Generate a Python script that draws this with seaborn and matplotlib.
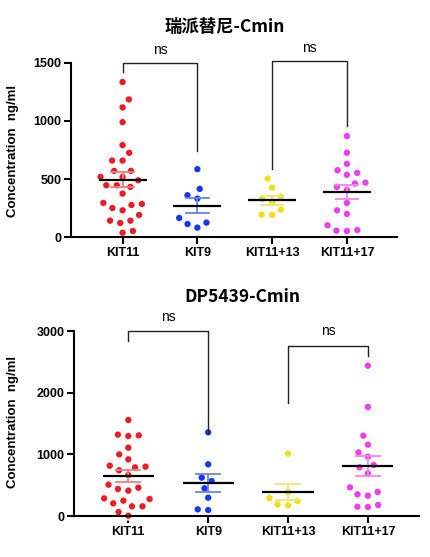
import pandas as pd
import matplotlib
matplotlib.use("Agg")
import matplotlib.pyplot as plt
import seaborn as sns

# 分組
groups = ["KIT11", "KIT9", "KIT11+13", "KIT11+17"]

# 瑞派替尼 Cmin (ng/ml)
rpt_kit11 = [1336, 1186, 1117, 990, 792, 726, 659, 659, 570, 570, 518, 518, 489,
             446, 446, 432, 374, 294, 285, 276, 250, 230, 190, 141, 141, 121, 52, 37]
rpt_kit9 = [585, 415, 360, 331, 164, 124, 112, 81]
rpt_kit11_13 = [504, 426, 348, 328, 299, 236, 193, 190]
rpt_kit11_17 = [870, 726, 631, 576, 553, 536, 469, 461, 432, 406, 294, 230, 199,
                101, 60, 55, 52]

# DP5439 Cmin (ng/ml)
dp_kit11 = [1557, 1297, 1308, 1319, 1108, 1000, 919, 816, 800, 789, 741, 665,
            508, 459, 411, 438, 276, 249, 205, 286, 157, 157, 65, 5]
dp_kit9 = [1357, 838, 568, 622, 449, 297, 97, 108]
dp_kit11_13 = [1011, 389, 292, 189, 243, 173]
dp_kit11_17 = [2438, 1768, 1303, 1157, 1032, 962, 827, 789, 692, 465, 389, 330,
               351, 151, 178, 146]

dot_colors = ["#ED1C24", "#1438F5", "#F0E014", "#F03CF0"]
err_colors = ["#F47C7C", "#6A80F0", "#F0E66E", "#F582F5"]

plt.rcParams["font.family"] = ["Liberation Sans", "DejaVu Sans"]
title_font = ["Noto Sans CJK SC", "DejaVu Sans"]


def make_df(values):
    rows = []
    for g, vals in zip(groups, values):
        for v in vals:
            rows.append({"group": g, "value": v})
    return pd.DataFrame(rows)


def draw_panel(ax, df, yticks, xlim, brackets):
    # 白色描邊讓點之間留出空隙
    sns.swarmplot(data=df, x="group", y="value", hue="group", order=groups,
                  hue_order=groups, palette=dot_colors, size=5.9, ax=ax,
                  legend=False, clip_on=False, zorder=2,
                  edgecolor="white", linewidth=1.3)
    # 平均值 ± SEM
    sns.pointplot(data=df, x="group", y="value", hue="group", order=groups,
                  hue_order=groups, palette=err_colors, errorbar="se",
                  capsize=0.3, linestyle="none", markersize=0, ax=ax,
                  legend=False, err_kws={"linewidth": 1.3}, zorder=3)
    stats = df.groupby("group")["value"].mean().reindex(groups)
    pos = range(len(groups))
    ax.hlines(stats.values, [p - 0.32 for p in pos], [p + 0.32 for p in pos],
              color="black", linewidth=1.6, zorder=4)

    ax.set_xlim(*xlim)
    ax.set_ylim(yticks[0], yticks[-1])
    ax.set_yticks(yticks)
    ax.set_xlabel("")
    ax.set_ylabel("Concentration  ng/ml", fontsize=9.5, fontweight="bold")
    for lab in ax.get_xticklabels() + ax.get_yticklabels():
        lab.set_fontweight("bold")
    ax.tick_params(axis="both", labelsize=9, width=1.5, length=5, pad=2)
    sns.despine(ax=ax)
    for s in ["left", "bottom"]:
        ax.spines[s].set_linewidth(1.5)

    # 顯著性標記
    for x1, x2, top, y1, y2, ty in brackets:
        ax.plot([x1, x1, x2, x2], [y1, top, top, y2], color="#222222",
                linewidth=1.0, clip_on=False)
        ax.text((x1 + x2) / 2, ty, "ns", ha="center", va="center", fontsize=10)


fig = plt.figure(figsize=(4.31, 5.57), dpi=100)
ax1 = fig.add_axes([0.1647, 0.5745, 0.7564, 0.3124])
ax2 = fig.add_axes([0.1717, 0.0736, 0.8005, 0.3321])

draw_panel(ax1, make_df([rpt_kit11, rpt_kit9, rpt_kit11_13, rpt_kit11_17]),
           [0, 500, 1000, 1500], (-0.69, 3.67),
           [(0, 1, 1500, 1419, 743, 1615), (2, 3, 1515, 587, 953, 1625)])
draw_panel(ax2, make_df([dp_kit11, dp_kit9, dp_kit11_13, dp_kit11_17]),
           [0, 1000, 2000, 3000], (-0.68, 3.64),
           [(0, 1, 3000, 2838, 1351, 3232), (2, 3, 2762, 1827, 2595, 3005)])

ax1.yaxis.set_label_coords(0.044, 0.729, transform=fig.transFigure)
ax2.yaxis.set_label_coords(0.044, 0.242, transform=fig.transFigure)

fig.text(0.522, 0.9515, "瑞派替尼-Cmin", ha="center", va="center",
         fontsize=12.5, fontweight="bold", family=title_font)
fig.text(0.5615, 0.4668, "DP5439-Cmin", ha="center", va="center",
         fontsize=12.5, fontweight="bold", family=title_font)

fig.savefig("out.png", dpi=100)
